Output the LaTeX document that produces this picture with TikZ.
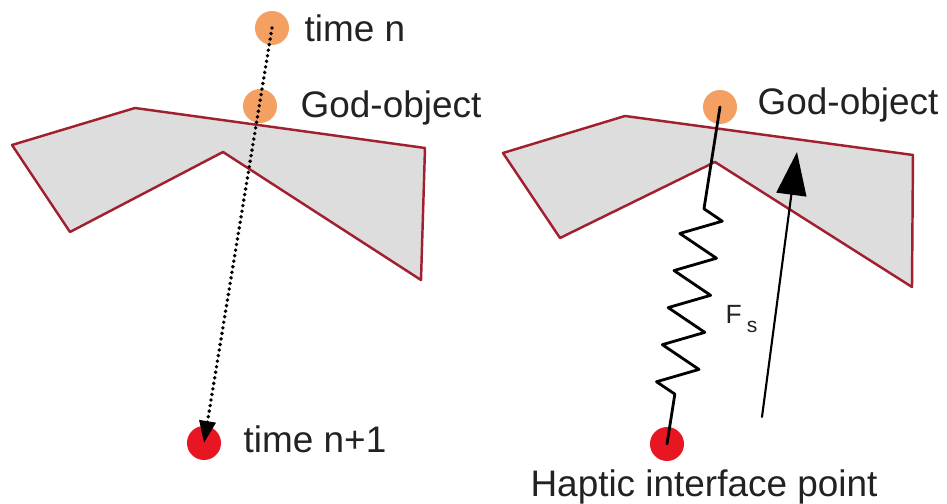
\documentclass[tikz,border=0pt]{standalone}
\usepackage{fontspec}
\setmainfont{Liberation Sans}
\usetikzlibrary{arrows.meta,decorations.pathmorphing}

\definecolor{objfill}{RGB}{221,221,221}
\definecolor{objedge}{RGB}{160,32,48}
\definecolor{godorange}{RGB}{244,160,98}
\definecolor{hipred}{RGB}{232,22,34}
\definecolor{txtgray}{RGB}{34,34,34}

\begin{document}
\begin{tikzpicture}[line cap=round,line join=round,x=0.01cm,y=-0.01cm,
  obj/.style={draw=objedge,fill=objfill,line width=0.7pt},
  godpt/.style={circle,fill=godorange,minimum size=3.4mm,inner sep=0pt},
  hippt/.style={circle,fill=hipred,minimum size=3.4mm,inner sep=0pt},
  lbl/.style={anchor=base west,inner sep=0pt,text=txtgray,font=\fontsize{10.5}{12}\selectfont},
  ressort/.style={line width=0.8pt,decorate,decoration={zigzag,segment length=3.75mm,amplitude=2mm,pre length=10.3mm,post length=4.7mm}}]
		\useasboundingbox (0,0) rectangle (947,504);
		% objet gauche
		\draw[obj] (12,145)--(135,108)--(425,148)--(421,280)--(223,152)--(70,232)--cycle;
		% objet droit
		\draw[obj] (503,153)--(625,116)--(913,155)--(912,287)--(715,162)--(560,238)--cycle;
		% points
		\node[godpt] (tn) at (272,28) {};
		\node[godpt] (gol) at (260,106) {};
		\node[hippt] (tn1) at (204,443) {};
		\node[godpt] (gor) at (720,107) {};
		\node[hippt] (hip) at (667,444) {};
		% textes
		\node[lbl] (ltn) at (304,42) {time n};
		\node[lbl] (lgol) at (300,118) {God-object};
		\node[lbl] (ltn1) at (243,453) {time n+1};
		\node[lbl] (lgor) at (757,115) {God-object};
		\node[lbl,anchor=base] (lhip) at (704,497) {Haptic interface point};
		\node[lbl,font=\fontsize{7.5}{9}\selectfont] (lfs) at (725,324) {F\kern0.5mm\raisebox{-2.3pt}{\fontsize{6}{7}\selectfont s}};
		% trajectoire
		\draw[line width=1.1pt,dash pattern=on 0pt off 1.6pt,-{Triangle[length=2.2mm,width=1.6mm]}] (tn.center)--(tn1.center);
		% ressort
		\draw[ressort] (gor.center)--(hip.center);
		% force
		\coordinate (fbas) at (762,417);
		\coordinate (fhaut) at (797,152);
		\draw[line width=0.6pt,-{Triangle[length=4.3mm,width=3mm]}] (fbas)--(fhaut);
\end{tikzpicture}
\end{document}
